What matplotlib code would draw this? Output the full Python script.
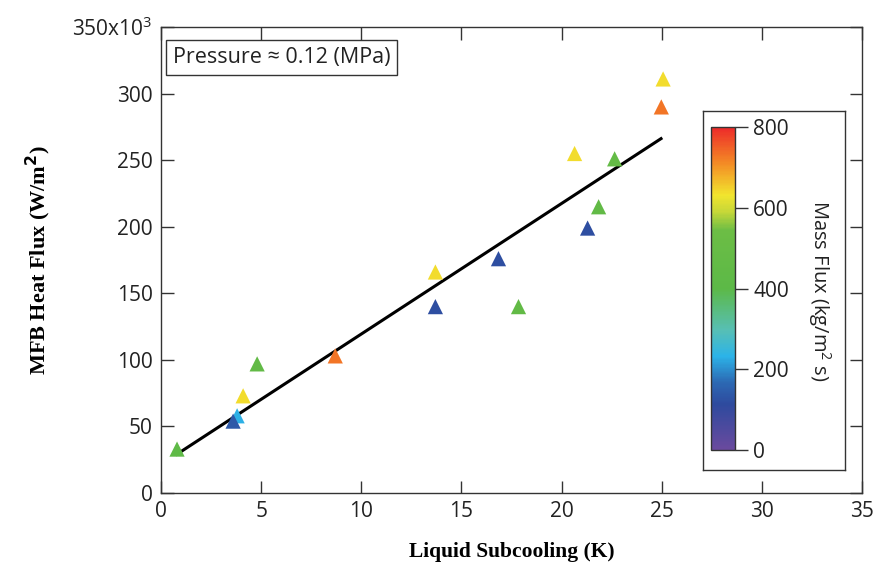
#!/usr/bin/env python

import numpy as np
import matplotlib
matplotlib.use("Agg")
import matplotlib.pyplot as plt
import matplotlib.colors as mcol

# data
subcool = [0.8, 4.8, 4.1, 3.8, 3.6, 8.7, 13.7, 13.7, 16.85, 17.85, 20.65, 22.65, 21.85, 21.3, 24.98, 25.07]
heatflux = [33, 97, 73, 58, 54, 103, 166, 140, 176, 140, 255, 251, 215, 199, 290, 311]
massflux = [430, 450, 640, 230, 140, 730, 640, 120, 120, 450, 640, 470, 450, 120, 730, 640]

fit_x = [0.73, 25.03]
fit_y = [28.5, 266.8]

xticks = [0, 5, 10, 15, 20, 25, 30, 35]
yticks = [0, 50, 100, 150, 200, 250, 300, 350]
ytick_labels = ["0", "50", "100", "150", "200", "250", "300", r"350x10$^3$"]
cbar_ticks = [0, 200, 400, 600, 800]

def main():
    plt.rcParams["font.family"] = ["Open Sans", "DejaVu Sans"]
    plt.rcParams["mathtext.fontset"] = "custom"
    plt.rcParams["mathtext.rm"] = "Open Sans"

    cm1 = mcol.LinearSegmentedColormap.from_list("igor", [
        (0.0, "#6a4a9e"), (0.14, "#2e4a9e"), (0.21, "#2c6ab4"), (0.29, "#2cb3e8"),
        (0.37, "#57bfb5"), (0.50, "#5cb947"), (0.68, "#6cbd45"), (0.74, "#c8d838"),
        (0.79, "#f2e52e"), (0.89, "#f38a25"), (1.0, "#ed2a2a")])
    cnorm = mcol.Normalize(vmin=0, vmax=800)

    fig = plt.figure(figsize=(8.76, 5.63), dpi=100)
    ax = fig.add_axes([0.1838, 0.1243, 0.8002, 0.8277])
    ax.plot(fit_x, fit_y, color="black", lw=2.2, solid_capstyle="butt", zorder=2)
    ax.scatter(subcool, heatflux, c=massflux, cmap=cm1, norm=cnorm, marker="^",
        s=120, linewidths=0, zorder=3)

    ax.set_xlim(0, 35)
    ax.set_ylim(0, 350)
    ax.set_xticks(xticks)
    ax.set_yticks(yticks)
    ax.set_yticklabels(ytick_labels)
    ax.tick_params(direction="in", length=9, width=1, color="#333333",
        top=True, right=True, labelsize=15, labelcolor="#222222", pad=6)
    for sp in ax.spines.values():
        sp.set_linewidth(1.0)
        sp.set_color("#333333")

    ax.set_xlabel("Liquid Subcooling (K)", family="Liberation Serif",
        fontweight="bold", fontsize=15.5, labelpad=14)
    ax.set_ylabel(r"MFB Heat Flux (W/m$^{\mathbf{2}}$)", family="Liberation Serif",
        fontweight="bold", fontsize=16, labelpad=14)

    ax.text(0.6, 327, "Pressure \u2248 0.12 (MPa)", fontsize=15.5, color="#222222",
        va="center", ha="left",
        bbox=dict(boxstyle="square,pad=0.32", fc="white", ec="#333333", lw=1.0))

    # colorbar frame
    fr = fig.add_axes([0.8025, 0.1652, 0.1621, 0.6382])
    fr.set_xticks([])
    fr.set_yticks([])
    for sp in fr.spines.values():
        sp.set_linewidth(1.0)
        sp.set_color("#333333")

    cax = fig.add_axes([0.8116, 0.2007, 0.0274, 0.5737])
    sm = plt.cm.ScalarMappable(norm=cnorm, cmap=cm1)
    sm.set_array([])
    cb = fig.colorbar(sm, cax=cax, ticks=cbar_ticks)
    cb.outline.set_linewidth(1.0)
    cb.outline.set_edgecolor("#333333")
    cax.tick_params(direction="out", length=9, width=1, color="#333333",
        labelsize=15, labelcolor="#222222", pad=4)
    fig.text(0.936, 0.483, r"Mass Flux (kg/m$^2$ s)", rotation=270, fontsize=14.5,
        color="#222222", ha="center", va="center")

    fig.savefig("out.png", dpi=100)
    plt.close()

if __name__ == "__main__":
    main()
